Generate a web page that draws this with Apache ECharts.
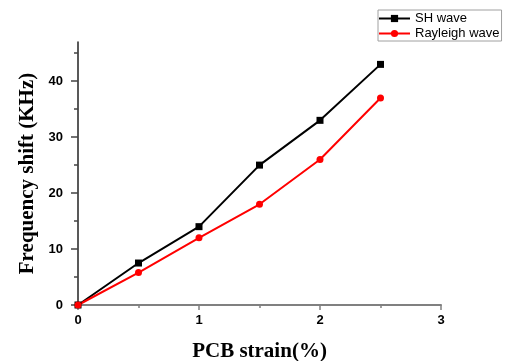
<!DOCTYPE html>
<html>
<head>
<meta charset="utf-8">
<script src="https://cdn.jsdelivr.net/npm/echarts@6/dist/echarts.min.js"></script>
<style>
  html, body { margin: 0; padding: 0; background: #fff; }
  #chart { width: 506px; height: 361px; }
</style>
</head>
<body>
<div id="chart"></div>
<script>
const strain = [0, 0.5, 1, 1.5, 2, 2.5];
const shWave = [0, 7.5, 14, 25, 33, 43];
const rayleighWave = [0, 5.8, 12, 18, 26, 37];
const yMajorTicks = [0, 10, 20, 30, 40];
const yMinorTicks = [5, 15, 25, 35, 45];

const pairs = (xs, ys) => xs.map((x, i) => [x, ys[i]]);

const chart = echarts.init(document.getElementById("chart"));

const tickLabel = {
  color: "#000",
  fontFamily: "Liberation Sans, Arial, sans-serif",
  fontWeight: "bold",
  fontSize: 13,
};

const titleFont = {
  color: "#000",
  fontFamily: "Liberation Serif, Times New Roman, serif",
  fontWeight: "bold",
  fontSize: 21,
};

chart.setOption({
  animation: false,
  grid: { left: 78, right: 65, top: 42, bottom: 56, outerBoundsMode: "none", containLabel: false },
  legend: {
    orient: "vertical",
    left: 378,
    top: 10,
    padding: [2, 2, 1, 0],
    itemGap: 2,
    itemWidth: 31,
    itemHeight: 9,
    borderColor: "#a0a0a0",
    borderWidth: 1,
    textStyle: {
      color: "#000",
      fontFamily: "Liberation Sans, Arial, sans-serif",
      fontSize: 13,
    },
    data: ["SH wave", "Rayleigh wave"],
  },
  xAxis: {
    type: "value",
    min: 0,
    max: 3,
    interval: 1,
    name: "PCB strain(%)",
    nameLocation: "middle",
    nameGap: 36,
    nameTextStyle: titleFont,
    splitLine: { show: false },
    axisLine: { lineStyle: { color: "#808080", width: 2 } },
    axisTick: { length: 5, lineStyle: { color: "#808080", width: 1.5 } },
    minorTick: { show: true, splitNumber: 2, length: 3, lineStyle: { color: "#808080", width: 1.5 } },
    axisLabel: { ...tickLabel, margin: 9 },
  },
  yAxis: [
    {
      type: "value",
      min: 0,
      max: 47,
      name: "Frequency shift (KHz)",
      nameLocation: "middle",
      nameGap: 38,
      nameTextStyle: titleFont,
      splitLine: { show: false },
      axisLine: { onZero: false, lineStyle: { color: "#222", width: 1.5 } },
      axisTick: { customValues: yMajorTicks, length: 7, lineStyle: { color: "#444", width: 1.5 } },
      axisLabel: { ...tickLabel, customValues: yMajorTicks, margin: 15 },
    },
    {
      type: "value",
      position: "left",
      min: 0,
      max: 47,
      splitLine: { show: false },
      axisLine: { show: false },
      axisTick: { customValues: yMinorTicks, length: 4, lineStyle: { color: "#444", width: 1.5 } },
      axisLabel: { show: false },
    },
  ],
  series: [
    {
      name: "SH wave",
      type: "line",
      data: pairs(strain, shWave),
      symbol: "rect",
      symbolSize: 7,
      color: "#000",
      lineStyle: { width: 2 },
    },
    {
      name: "Rayleigh wave",
      type: "line",
      data: pairs(strain, rayleighWave),
      symbol: "circle",
      symbolSize: 7,
      color: "#ff0000",
      lineStyle: { width: 2 },
    },
  ],
});
</script>
</body>
</html>
